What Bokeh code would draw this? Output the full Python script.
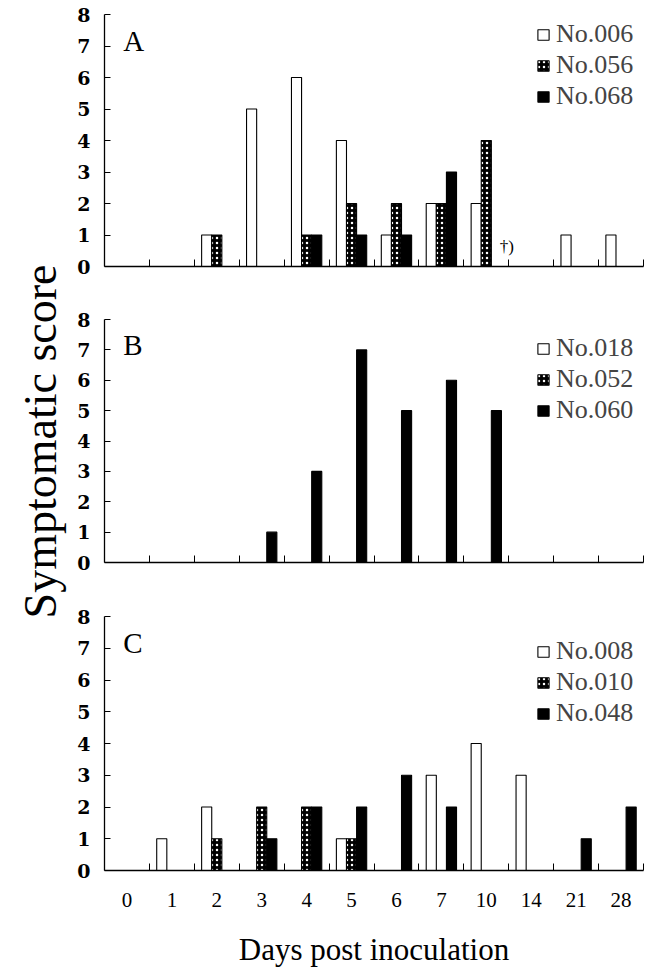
import math
from bokeh.plotting import figure
from bokeh.layouts import column, row
from bokeh.models import ColumnDataSource, FixedTicker, Legend, LegendItem, Label, Range1d
from bokeh.transform import dodge
from bokeh.embed import file_html
from bokeh.resources import INLINE

# ---------------- data ----------------
days = ["0", "1", "2", "3", "4", "5", "6", "7", "10", "14", "21", "28"]

a_ids = ["No.006", "No.056", "No.068"]
a_006 = [0, 0, 1, 5, 6, 4, 1, 2, 2, 0, 1, 1]
a_056 = [0, 0, 1, 0, 1, 2, 2, 2, 4, 0, 0, 0]
a_068 = [0, 0, 0, 0, 1, 1, 1, 3, 0, 0, 0, 0]

b_ids = ["No.018", "No.052", "No.060"]
b_018 = [0, 0, 0, 0, 0, 0, 0, 0, 0, 0, 0, 0]
b_052 = [0, 0, 0, 0, 0, 0, 0, 0, 0, 0, 0, 0]
b_060 = [0, 0, 0, 1, 3, 7, 5, 6, 5, 0, 0, 0]

c_ids = ["No.008", "No.010", "No.048"]
c_008 = [0, 1, 2, 0, 0, 1, 0, 3, 4, 3, 0, 0]
c_010 = [0, 0, 1, 2, 2, 1, 0, 0, 0, 0, 0, 0]
c_048 = [0, 0, 0, 1, 2, 2, 3, 2, 0, 0, 1, 2]

y_ticks = [0, 1, 2, 3, 4, 5, 6, 7, 8]
note_day = "10"
note_text = "\u2020)"
note_score = 0.62

y_title = "Symptomatic score"
x_title = "Days post inoculation"

# ---------------- style ----------------
SERIF = "Liberation Serif"
STRIP = 74
offsets = [-0.225, 0.0, 0.225]
bar_w = 0.225
styles = [
    dict(fill_color="white"),
    dict(fill_color="black", hatch_pattern="dot", hatch_color="white",
         hatch_scale=5, hatch_weight=3),
    dict(fill_color="black"),
]


def make_panel(letter, ids, series, height, top, bottom, legend_xy,
               show_xlabels=False, note=False):
    n = len(days)
    p = figure(width=650 - STRIP, height=height, output_backend="svg", toolbar_location=None,
               x_range=Range1d(-0.5, n - 0.5), y_range=Range1d(0, 8),
               min_border_left=100 - STRIP, min_border_right=7,
               min_border_top=top, min_border_bottom=bottom)
    p.outline_line_color = None
    p.xgrid.visible = False
    p.ygrid.visible = False
    p.background_fill_color = "white"
    p.border_fill_color = "white"

    items = []
    for k, (name, vals) in enumerate(zip(ids, series)):
        xs = list(range(n))
        tops = [v if v > 0 else float("nan") for v in vals]
        src = ColumnDataSource(dict(x=xs, top=tops))
        r = p.vbar(x=dodge("x", offsets[k]), top="top", width=bar_w, source=src,
                   line_color="black", line_width=1.1, **styles[k])
        items.append(LegendItem(label=name, renderers=[r], index=0))

    leg = Legend(items=items, location=legend_xy, padding=2, spacing=1, margin=0,
                 border_line_color=None, background_fill_alpha=0,
                 glyph_width=14, glyph_height=13, label_standoff=6,
                 label_text_font=SERIF, label_text_font_size="26px", label_height=24)
    p.add_layout(leg)

    p.add_layout(Label(x=-0.08, y=7.15, text=letter, text_font=SERIF,
                       text_font_size="29px", text_baseline="alphabetic",
                       text_color="black"))
    if note:
        p.add_layout(Label(x=days.index(note_day) + 0.3, y=note_score, text=note_text,
                           text_font=SERIF, text_font_size="17px",
                           text_baseline="alphabetic", text_color="black"))

    boundaries = [i + 0.5 for i in range(n)]
    xa = p.xaxis[0]
    xa.major_tick_in = 0
    xa.major_tick_out = 0
    xa.minor_tick_in = 7
    xa.minor_tick_out = 0
    xa.minor_tick_line_color = "black"
    xa.axis_line_color = "black"
    xa.axis_line_width = 1.3
    if show_xlabels:
        xa.ticker = FixedTicker(ticks=list(range(n)), minor_ticks=boundaries)
        xa.major_label_overrides = {i: d for i, d in enumerate(days)}
        xa.major_label_text_font = SERIF
        xa.major_label_text_font_size = "21px"
        xa.major_label_text_color = "black"
        xa.major_label_standoff = 22
        xa.axis_label = x_title
        xa.axis_label_text_font = SERIF
        xa.axis_label_text_font_size = "31px"
        xa.axis_label_text_font_style = "normal"
        xa.axis_label_text_color = "black"
        xa.axis_label_standoff = 22
    else:
        xa.ticker = FixedTicker(ticks=[], minor_ticks=boundaries)
        xa.major_label_standoff = 0

    ya = p.yaxis[0]
    ya.ticker = FixedTicker(ticks=y_ticks)
    ya.major_tick_in = 6
    ya.major_tick_out = 0
    ya.minor_tick_in = 0
    ya.minor_tick_out = 0
    ya.major_tick_line_color = "black"
    ya.axis_line_color = "black"
    ya.axis_line_width = 1.3
    ya.major_label_text_font = "DejaVu Serif"
    ya.major_label_text_font_style = "bold"
    ya.major_label_text_font_size = "19px"
    ya.major_label_text_color = "black"
    ya.major_label_standoff = 14
    return p


pa = make_panel("A", a_ids, [a_006, a_056, a_068], height=286, top=14, bottom=20,
                legend_xy=(432, 155), note=True)
pb = make_panel("B", b_ids, [b_018, b_052, b_060], height=296, top=33, bottom=20,
                legend_xy=(432, 137))
pc = make_panel("C", c_ids, [c_008, c_010, c_048], height=396, top=34, bottom=108,
                legend_xy=(432, 142), show_xlabels=True)

# left strip carrying the shared y-axis title
lab = figure(width=STRIP, height=978, output_backend="svg", toolbar_location=None,
             x_range=Range1d(0, STRIP), y_range=Range1d(0, 978),
             x_axis_location=None, y_axis_location=None,
             min_border=0, min_border_left=0, min_border_right=0,
             min_border_top=0, min_border_bottom=0)
lab.outline_line_color = None
lab.xgrid.visible = False
lab.ygrid.visible = False
lab.add_layout(Label(x=40, y=978 - 441, text=y_title, angle=math.pi / 2,
                     text_align="center", text_baseline="middle",
                     text_font=SERIF, text_font_size="46px", text_color="black"))

layout = row(lab, column(pa, pb, pc, spacing=0), spacing=0)
open("out.html", "w").write(file_html(layout, INLINE))
